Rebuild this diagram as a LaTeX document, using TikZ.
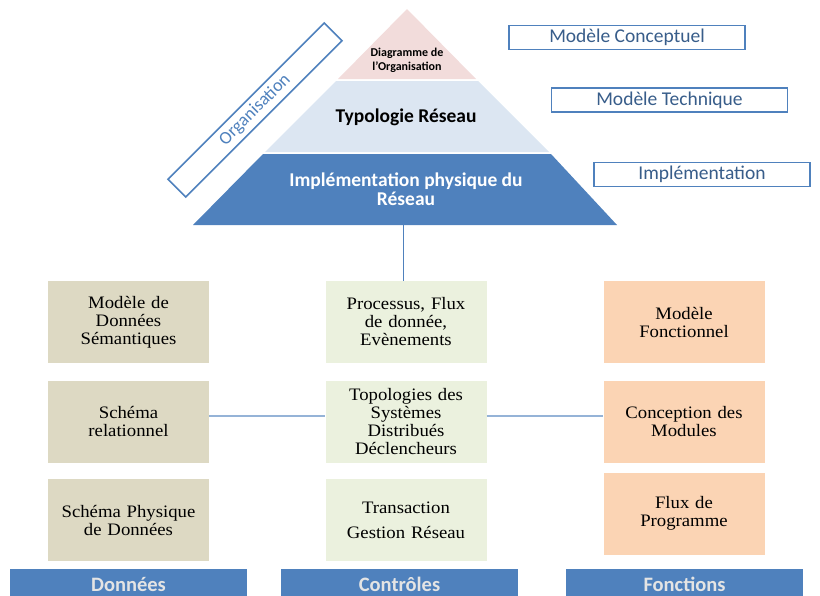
\documentclass[tikz,border=0pt]{standalone}
\usepackage{fontspec}
\setmainfont[FakeStretch=1.07]{Liberation Serif}
\newfontfamily\calib{Carlito}
\definecolor{pyrblue}{HTML}{4F81BD}
\definecolor{pinkc}{HTML}{F2DCDB}
\definecolor{lblue}{HTML}{DCE6F2}
\definecolor{tanc}{HTML}{DDD9C3}
\definecolor{greenc}{HTML}{EBF1DE}
\definecolor{orangec}{HTML}{FBD4B4}
\definecolor{linec}{HTML}{95B3D7}
\definecolor{labtext}{HTML}{385D8A}
\definecolor{headtext}{HTML}{E4E4E4}
\tikzset{
  cellbox/.style={minimum width=161pt, minimum height=82pt, inner sep=0pt, text width=150pt, align=center, font=\fontsize{17.5}{18}\selectfont},
  labbox/.style={draw=pyrblue, line width=1.6pt, fill=white, minimum width=236pt, minimum height=24pt, inner sep=0pt, text=labtext, font=\calib\fontsize{19.5}{20}\selectfont},
  headbox/.style={fill=pyrblue, minimum width=237pt, minimum height=30pt, inner sep=0pt, text=headtext, font=\calib\bfseries\fontsize{20.5}{21}\selectfont},
  conn/.style={draw=linec, line width=1.2pt}
}
\begin{document}
\begin{tikzpicture}[x=1pt,y=-1pt]
\useasboundingbox (0,0) rectangle (820,595);
% pyramid
\fill[pinkc] (407,9) -- (476,79) -- (338,79) -- cycle;
\fill[lblue] (336,81) -- (478,81) -- (549,152) -- (265,152) -- cycle;
\fill[pyrblue] (263,154) -- (551,154) -- (617,225) -- (193,225) -- cycle;
\node[font=\calib\bfseries\fontsize{12}{14}\selectfont, align=center] (ptop) at (407,60) {Diagramme de\\l’Organisation};
\node[font=\calib\bfseries\fontsize{19.5}{20}\selectfont] (pmid) at (406,117) {Typologie Réseau};
\node[font=\calib\bfseries\fontsize{19.5}{19.5}\selectfont, text=white, align=center] (pbot) at (406,189) {Implémentation physique du\\Réseau};
\coordinate (pbase) at (403,225);
% organisation box
\node[draw=pyrblue, line width=1.6pt, fill=white, rotate=45, minimum width=221pt, minimum height=25pt, inner sep=0pt, text=pyrblue, font=\calib\fontsize{18}{20}\selectfont] (org) at (255,110) {Organisation};
% right labels
\node[labbox] (lconc) at (627,37.5) {Modèle Conceptuel};
\node[labbox] (ltech) at (669.5,100) {Modèle Technique};
\node[labbox, minimum width=216pt] (limpl) at (702,174.5) {Implémentation};
% cells
\node[cellbox, fill=tanc] (d1) at (128.5,322) {Modèle de\\Données\\Sémantiques};
\node[cellbox, fill=tanc] (d2) at (128.5,421.5) {Schéma\\relationnel};
\node[cellbox, fill=tanc] (d3) at (128.5,520) {Schéma Physique\\de Données};
\node[cellbox, fill=greenc] (c1) at (406,322) {Processus, Flux\\de donnée,\\Evènements};
\node[cellbox, fill=greenc] (c2) at (406,421.5) {Topologies des\\Systèmes\\Distribués\\Déclencheurs};
\node[cellbox, fill=greenc] (c3) at (406,520) {Transaction\\[7pt]Gestion Réseau};
\node[cellbox, fill=orangec] (f1) at (684,322) {Modèle\\Fonctionnel};
\node[cellbox, fill=orangec] (f2) at (684,421.5) {Conception des\\Modules};
\node[cellbox, fill=orangec] (f3) at (684,513.5) {Flux de\\Programme};
% headers
\node[headbox] (hd) at (128.5,584) {Données};
\node[headbox] (hc) at (399.5,584) {Contrôles};
\node[headbox] (hf) at (684.5,584) {Fonctions};
% connectors
\draw[draw=pyrblue, line width=1pt] (pbase) -- (pbase |- c1.north);
\draw[conn] ([yshift=5.5pt]d2.east) -- ([yshift=5.5pt]c2.west);
\draw[conn] ([yshift=5.5pt]c2.east) -- ([yshift=5.5pt]f2.west);
\end{tikzpicture}
\end{document}
